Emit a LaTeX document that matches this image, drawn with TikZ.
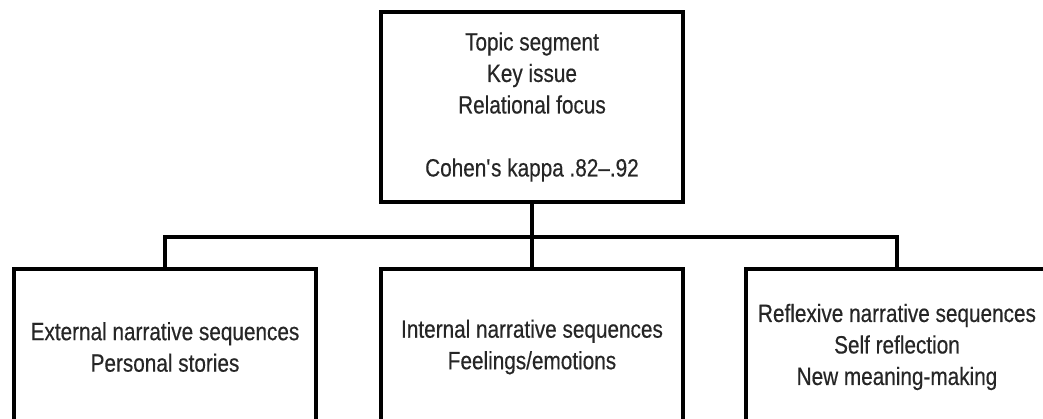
\documentclass[tikz,border=0pt]{standalone}
\usepackage{fontspec}
\setmainfont{Liberation Sans}[FakeStretch=0.83,FakeBold=0.4]
\begin{document}
\begin{tikzpicture}[x=1pt,y=1pt,
  box/.style={draw=black, line width=3.5pt, minimum width=302pt, align=center,
    inner sep=0pt, text=black!85, font=\fontsize{25}{31.5}\selectfont},
  conn/.style={draw=black, line width=3.5pt}]
\useasboundingbox (0,0) rectangle (1043,419);
\clip (0,0) rectangle (1043,419);
\node[box, minimum height=190pt] (top) at (532,312)
  {Topic segment\\Key issue\\Relational focus\\[31.5pt]Cohen\textquotesingle s kappa .82--.92};
\node[box, minimum height=156pt] (ext) at (165,72)
  {External narrative sequences\\Personal stories};
\node[box, minimum height=156pt] (int) at (532,72)
  {Internal narrative sequences\\Feelings/emotions};
\node[box, minimum height=156pt] (ref) at (897,72)
  {Reflexive narrative sequences\\Self reflection\\New meaning-making};
\coordinate (bus) at (532,182);
\draw[conn] (top.south) -- (int.north);
\draw[conn] (ext.north) |- (bus) -| (ref.north);
\end{tikzpicture}
\end{document}
